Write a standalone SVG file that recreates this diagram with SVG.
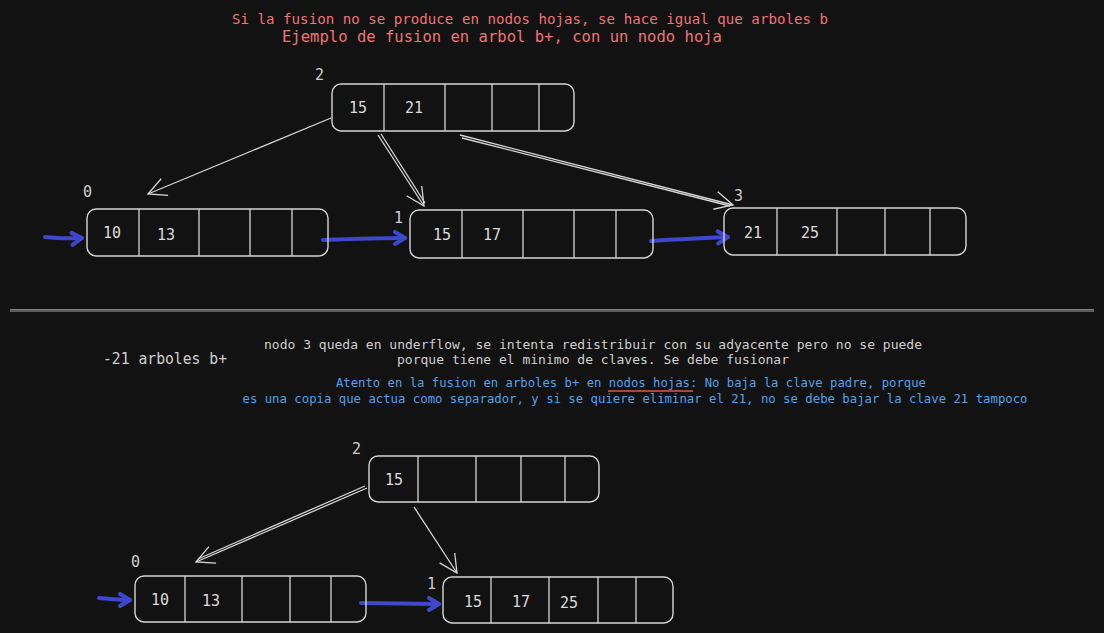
<svg xmlns="http://www.w3.org/2000/svg" width="1104" height="633" viewBox="0 0 1104 633">
<defs>
<style>
.bg{fill:#121212}
.box{fill:none;stroke:#d6d6d6;stroke-width:1.4}
.div{stroke:#d6d6d6;stroke-width:1.3}
.val{font-family:"DejaVu Sans Mono","Liberation Mono",monospace;font-size:15px;fill:#dcdcdc}
.lbl{font-family:"DejaVu Sans Mono","Liberation Mono",monospace;font-size:15px;fill:#cfcfcf}
.edge{fill:none;stroke:#d6d6d6;stroke-width:1.3}
.link{fill:none;stroke:#3f48cc;stroke-width:4;stroke-linecap:round}
.red{font-family:"DejaVu Sans Mono","Liberation Mono",monospace;fill:#f07474}
.gray{font-family:"DejaVu Sans Mono","Liberation Mono",monospace;font-size:13px;fill:#cfcfcf}
.blue{font-family:"DejaVu Sans Mono","Liberation Mono",monospace;font-size:12.5px;fill:#4fa3ec}
</style>
<marker id="open" markerUnits="userSpaceOnUse" markerWidth="30" markerHeight="30" refX="20" refY="10" orient="auto">
<path d="M2,1 L20,10 L2,19" fill="none" stroke="#d6d6d6" stroke-width="1.3"/>
</marker>
<marker id="blue" markerUnits="userSpaceOnUse" markerWidth="20" markerHeight="20" refX="13" refY="8" orient="auto">
<path d="M3,2 L13,8 L3,14" fill="none" stroke="#3f48cc" stroke-width="4" stroke-linecap="round" stroke-linejoin="round"/>
</marker>
</defs>
<rect class="bg" x="0" y="0" width="1104" height="633"/>

<g id="titles">
<text class="red" x="530" y="24" font-size="14" text-anchor="middle" textLength="596" lengthAdjust="spacingAndGlyphs">Si la fusion no se produce en nodos hojas, se hace igual que arboles b</text>
<text class="red" x="502" y="42" font-size="15.5" text-anchor="middle" textLength="440" lengthAdjust="spacingAndGlyphs">Ejemplo de fusion en arbol b+, con un nodo hoja</text>
</g>

<g id="connectors">
<path class="edge" d="M331,118 L148,194" marker-end="url(#open)"/>
<path class="edge" d="M378,135 L424,206" marker-end="url(#open)"/>
<path class="edge" d="M381,134 L425,203"/>
<path class="edge" d="M460,135 L733,205" marker-end="url(#open)"/>
<path class="edge" d="M462,138 L730,206"/>
<path class="link" d="M45,237 C60,238 70,239 82,238" marker-end="url(#blue)"/>
<path class="link" d="M323,240 C350,239 380,238 405,238" marker-end="url(#blue)"/>
<path class="link" d="M651,241 C680,239 705,238 728,237" marker-end="url(#blue)"/>
<path class="edge" d="M367,488 L196,562" marker-end="url(#open)"/>
<path class="edge" d="M365,486 L198,559"/>
<path class="edge" d="M414,507 L457,573" marker-end="url(#open)"/>
<path class="link" d="M99,598 C110,599 120,600 130,600" marker-end="url(#blue)"/>
<path class="link" d="M361,603 C390,603 415,604 439,604" marker-end="url(#blue)"/>
</g>

<g id="separator">
<line x1="10" y1="309.5" x2="1094" y2="309.5" stroke="#9a9a9a" stroke-width="0.8"/>
<line x1="10" y1="311" x2="1094" y2="311" stroke="#d0d0d0" stroke-width="0.8"/>
</g>

<g id="top-node-2">
<text class="lbl" x="315" y="80">2</text>
<rect class="box" x="332" y="84" width="242" height="47" rx="9"/>
<line class="div" x1="384" y1="84" x2="384" y2="131"/>
<line class="div" x1="445" y1="84" x2="445" y2="131"/>
<line class="div" x1="492" y1="84" x2="492" y2="131"/>
<line class="div" x1="539" y1="84" x2="539" y2="131"/>
<text class="val" x="358" y="113" text-anchor="middle">15</text>
<text class="val" x="414" y="113" text-anchor="middle">21</text>
</g>

<g id="top-node-0">
<text class="lbl" x="83" y="197">0</text>
<rect class="box" x="87" y="209" width="241" height="47" rx="9"/>
<line class="div" x1="139" y1="209" x2="139" y2="256"/>
<line class="div" x1="199" y1="209" x2="199" y2="256"/>
<line class="div" x1="250" y1="209" x2="250" y2="256"/>
<line class="div" x1="292" y1="209" x2="292" y2="256"/>
<text class="val" x="112" y="238" text-anchor="middle">10</text>
<text class="val" x="166" y="240" text-anchor="middle">13</text>
</g>

<g id="top-node-1">
<text class="lbl" x="394" y="223">1</text>
<rect class="box" x="410" y="210" width="243" height="48" rx="9"/>
<line class="div" x1="462" y1="210" x2="462" y2="258"/>
<line class="div" x1="523" y1="210" x2="523" y2="258"/>
<line class="div" x1="574" y1="210" x2="574" y2="258"/>
<line class="div" x1="616" y1="210" x2="616" y2="258"/>
<text class="val" x="442" y="240" text-anchor="middle">15</text>
<text class="val" x="492" y="240" text-anchor="middle">17</text>
</g>

<g id="top-node-3">
<text class="lbl" x="734" y="201">3</text>
<rect class="box" x="724" y="208" width="242" height="47" rx="9"/>
<line class="div" x1="777" y1="208" x2="777" y2="255"/>
<line class="div" x1="837" y1="208" x2="837" y2="255"/>
<line class="div" x1="885" y1="208" x2="885" y2="255"/>
<line class="div" x1="930" y1="208" x2="930" y2="255"/>
<text class="val" x="753" y="238" text-anchor="middle">21</text>
<text class="val" x="810" y="238" text-anchor="middle">25</text>
</g>

<g id="notes">
<text class="lbl" x="103" y="364" font-size="14.5" textLength="124" lengthAdjust="spacingAndGlyphs">-21 arboles b+</text>
<text class="gray" x="593" y="349" text-anchor="middle" textLength="658" lengthAdjust="spacingAndGlyphs">nodo 3 queda en underflow, se intenta redistribuir con su adyacente pero no se puede</text>
<text class="gray" x="593" y="364" text-anchor="middle" textLength="392" lengthAdjust="spacingAndGlyphs">porque tiene el minimo de claves. Se debe fusionar</text>
<text class="blue" x="631" y="387" text-anchor="middle" textLength="590" lengthAdjust="spacingAndGlyphs">Atento en la fusion en arboles b+ en nodos hojas: No baja la clave padre, porque</text>
<line x1="608" y1="391" x2="693" y2="391" stroke="#e05555" stroke-width="1.3"/>
<text class="blue" x="635" y="403" text-anchor="middle" textLength="785" lengthAdjust="spacingAndGlyphs">es una copia que actua como separador, y si se quiere eliminar el 21, no se debe bajar la clave 21 tampoco</text>
</g>

<g id="bottom-node-2">
<text class="lbl" x="352" y="454">2</text>
<rect class="box" x="369" y="456" width="230" height="46" rx="9"/>
<line class="div" x1="418" y1="456" x2="418" y2="502"/>
<line class="div" x1="476" y1="456" x2="476" y2="502"/>
<line class="div" x1="521" y1="456" x2="521" y2="502"/>
<line class="div" x1="565" y1="456" x2="565" y2="502"/>
<text class="val" x="394" y="485" text-anchor="middle">15</text>
</g>

<g id="bottom-node-0">
<text class="lbl" x="131" y="567">0</text>
<rect class="box" x="135" y="576" width="231" height="46" rx="9"/>
<line class="div" x1="185" y1="576" x2="185" y2="622"/>
<line class="div" x1="242" y1="576" x2="242" y2="622"/>
<line class="div" x1="290" y1="576" x2="290" y2="622"/>
<line class="div" x1="331" y1="576" x2="331" y2="622"/>
<text class="val" x="160" y="605" text-anchor="middle">10</text>
<text class="val" x="211" y="606" text-anchor="middle">13</text>
</g>

<g id="bottom-node-1">
<text class="lbl" x="427" y="589">1</text>
<rect class="box" x="443" y="577" width="230" height="46" rx="9"/>
<line class="div" x1="491" y1="577" x2="491" y2="623"/>
<line class="div" x1="549" y1="577" x2="549" y2="623"/>
<line class="div" x1="598" y1="577" x2="598" y2="623"/>
<line class="div" x1="636" y1="577" x2="636" y2="623"/>
<text class="val" x="473" y="607" text-anchor="middle">15</text>
<text class="val" x="521" y="607" text-anchor="middle">17</text>
<text class="val" x="569" y="608" text-anchor="middle">25</text>
</g>
</svg>
